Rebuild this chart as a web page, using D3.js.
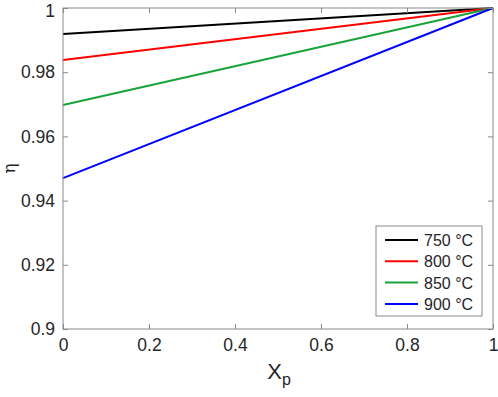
<!DOCTYPE html>
<html>
<head>
<meta charset="utf-8">
<script src="https://cdn.jsdelivr.net/npm/d3@7"></script>
<style>
  body { margin: 0; background: #fff; }
  text { font-family: "Liberation Sans", Arial, sans-serif; }
</style>
</head>
<body>
<svg id="chart" width="498" height="397"></svg>
<script>
const xpValues = [0, 1];
const seriesNames = ["750 °C", "800 °C", "850 °C", "900 °C"];
const seriesColors = ["#000000", "#ff0000", "#1aa33a", "#0000ff"];
const eta750 = [0.9919, 1];
const eta800 = [0.9838, 1];
const eta850 = [0.9698, 1];
const eta900 = [0.9470, 1];
const xTicks = [0, 0.2, 0.4, 0.6, 0.8, 1];
const yTicks = [0.9, 0.92, 0.94, 0.96, 0.98, 1];

const allSeries = [eta750, eta800, eta850, eta900];

const svg = d3.select("#chart");
const margin = { left: 63, right: 5, top: 8, bottom: 68 };
const width = 498 - margin.left - margin.right;
const height = 397 - margin.top - margin.bottom;

const x = d3.scaleLinear().domain([0, 1]).range([0, width]);
const y = d3.scaleLinear().domain([0.9, 1]).range([height, 0]);

const g = svg.append("g")
  .attr("transform", "translate(" + margin.left + "," + margin.top + ")");

const axisColor = "#8a8a8a";

// lines
const line = d3.line()
  .x((d, i) => x(xpValues[i]))
  .y((d) => y(d));

allSeries.forEach((s, i) => {
  g.append("path")
    .datum(s)
    .attr("d", line)
    .attr("fill", "none")
    .attr("stroke", seriesColors[i])
    .attr("stroke-width", 2);
});

// axes (ticks pointing inward)
const styleAxis = (sel) => {
  sel.select(".domain").remove();
  sel.selectAll("line").attr("stroke", axisColor);
  sel.selectAll("text")
    .attr("fill", "#262626")
    .style("font-size", "17.5px");
};

g.append("g")
  .attr("transform", "translate(0," + height + ")")
  .call(d3.axisBottom(x).tickValues(xTicks).tickSize(-5).tickPadding(10).tickFormat(d3.format("~g")))
  .call(styleAxis);

const yAxisG = g.append("g")
  .call(d3.axisLeft(y).tickValues(yTicks).tickSize(-5).tickPadding(8).tickFormat(d3.format("~g")))
  .call(styleAxis);
// top label sits a little lower, as in the original
yAxisG.selectAll("text").filter((d) => d === 1).attr("dy", "0.5em");

g.append("g")
  .call(d3.axisTop(x).tickValues(xTicks).tickSize(-5).tickFormat(""))
  .call(styleAxis);

g.append("g")
  .attr("transform", "translate(" + width + ",0)")
  .call(d3.axisRight(y).tickValues(yTicks).tickSize(-5).tickFormat(""))
  .call(styleAxis);

// box
g.append("rect")
  .attr("width", width)
  .attr("height", height)
  .attr("fill", "none")
  .attr("stroke", axisColor)
  .attr("stroke-width", 1);

// axis labels
const xLabel = svg.append("text")
  .attr("x", 279)
  .attr("y", 379)
  .attr("text-anchor", "middle")
  .attr("fill", "#262626")
  .style("font-size", "22px");
xLabel.append("tspan").text("X");
xLabel.append("tspan").attr("dy", 6).style("font-size", "16px").text("p");

svg.append("text")
  .attr("transform", "translate(15," + (margin.top + height / 2) + ") rotate(-90)")
  .attr("text-anchor", "middle")
  .attr("fill", "#262626")
  .style("font-size", "17px")
  .style("font-family", "'DejaVu Serif', serif")
  .text("η");

// legend
const legend = g.append("g").attr("transform", "translate(" + (376 - margin.left) + "," + (226 - margin.top) + ")");
legend.append("rect")
  .attr("width", 106)
  .attr("height", 90)
  .attr("fill", "#fff")
  .attr("stroke", axisColor);

seriesNames.forEach((name, i) => {
  const yy = 14 + i * 21.3;
  legend.append("line")
    .attr("x1", 9).attr("x2", 42)
    .attr("y1", yy).attr("y2", yy)
    .attr("stroke", seriesColors[i])
    .attr("stroke-width", 2);
  legend.append("text")
    .attr("x", 48)
    .attr("y", yy + 6)
    .attr("fill", "#262626")
    .style("font-size", "16px")
    .text(name);
});
</script>
</body>
</html>
